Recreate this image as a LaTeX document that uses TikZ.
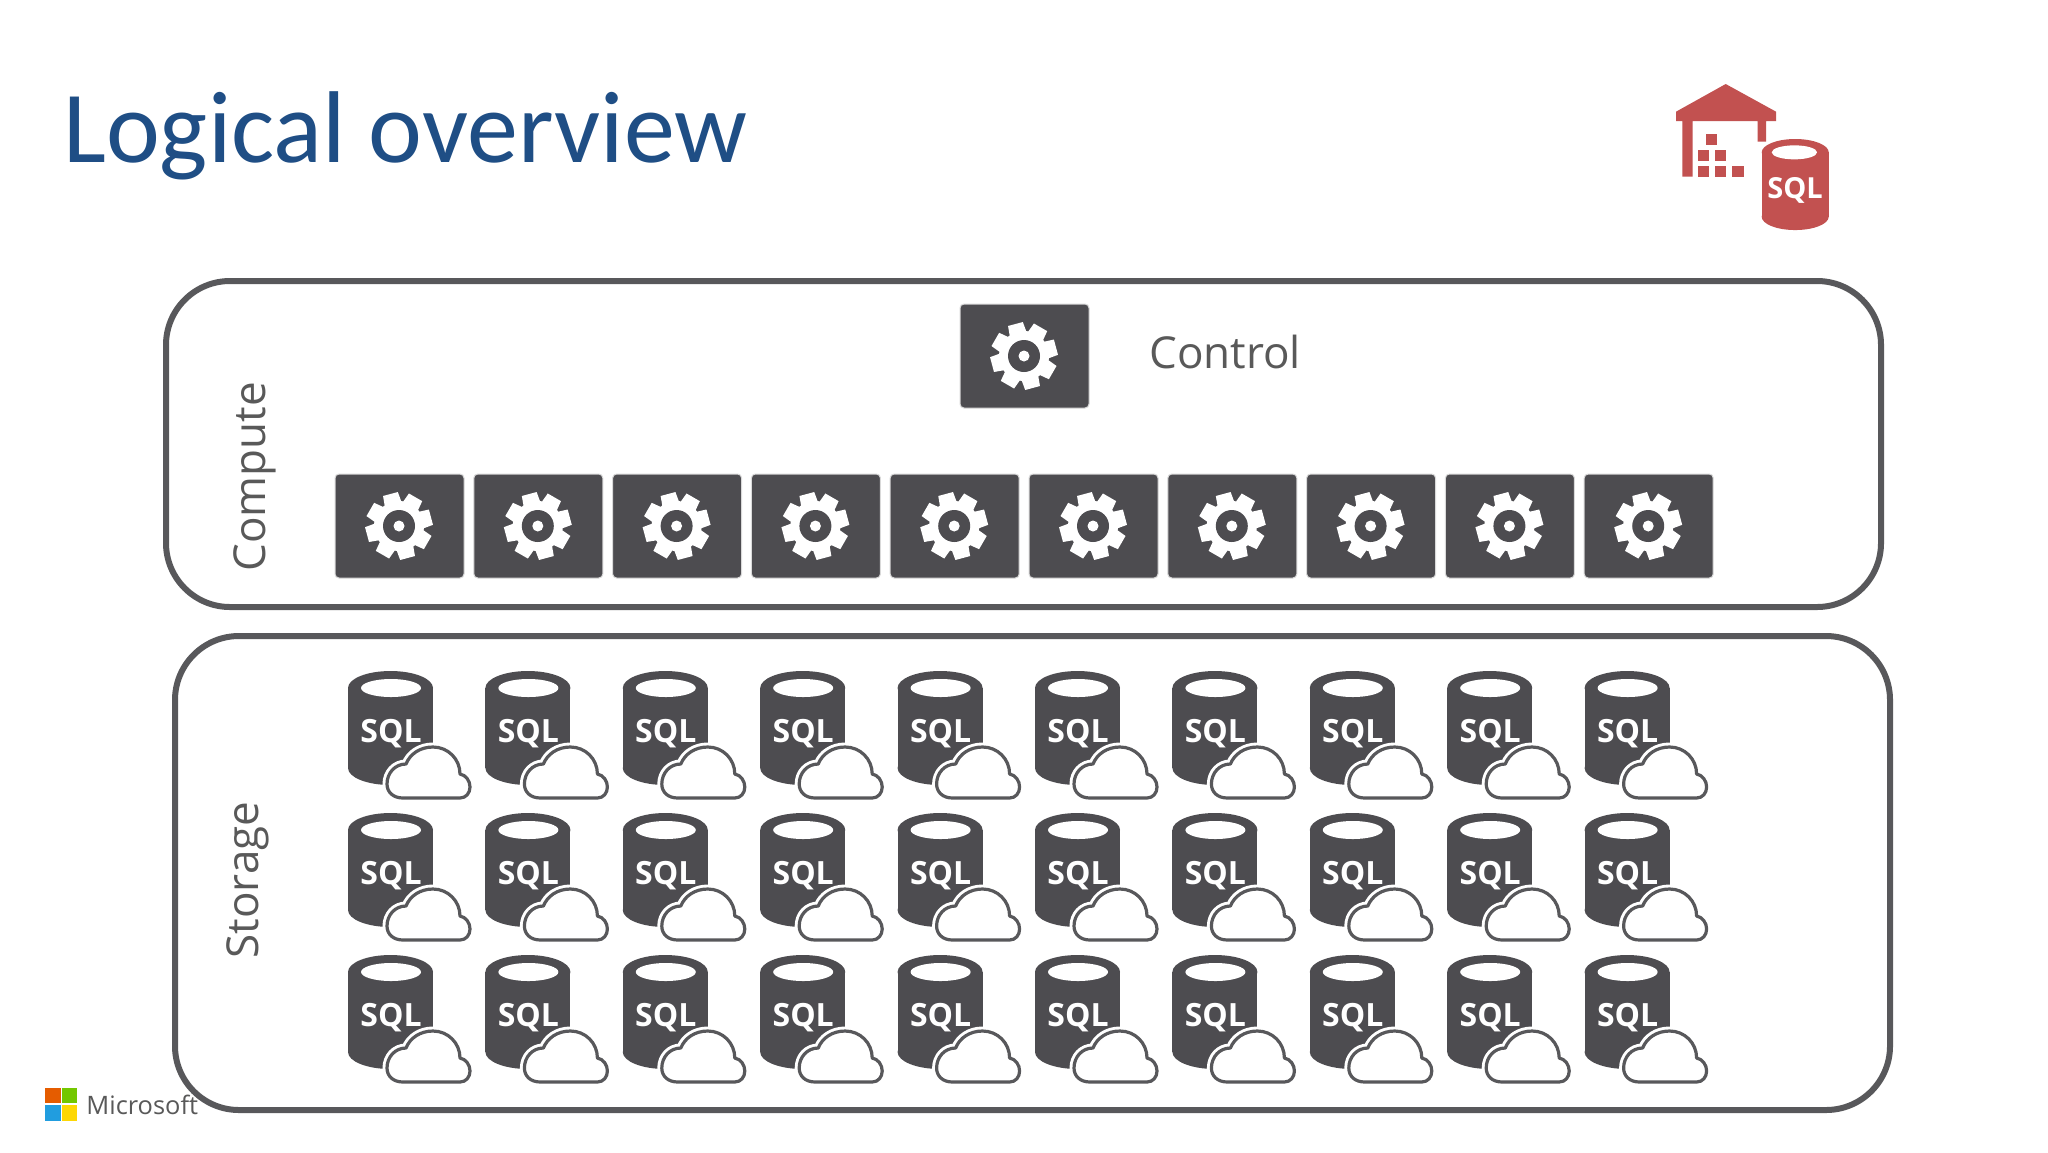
\documentclass[tikz,border=0pt]{standalone}
\usepackage{fontspec}
\setmainfont{Open Sans}
\newfontfamily\titlefont{Carlito}
\usetikzlibrary{calc}
\definecolor{tiledark}{HTML}{4D4C50}
\definecolor{boxline}{HTML}{58585B}
\definecolor{labelgray}{HTML}{595959}
\definecolor{titleblue}{HTML}{1F4E85}
\definecolor{brickred}{HTML}{C25150}
\tikzset{
    groupbox/.style={draw=boxline, line width=3pt, rounded corners=32pt},
    grouplabel/.style={text=labelgray, font=\fontsize{22}{26}\selectfont},
    sqllabel/.style={text=white, font=\bfseries\fontsize{16}{18}\selectfont, inner sep=0pt},
    gearcell/.pic={
        \fill[tiledark, draw=black!15, line width=0.5pt, rounded corners=2pt] (0,0) rectangle (129,104);
        \begin{scope}[shift={(64,52)}]
            \fill[white, rotate=15] (-14:34) \foreach \a in {0,45,...,315} {
                -- (\a-13:34) -- (\a+13:34) -- (\a+20:25) -- (\a+25:25)};
            \fill[tiledark] (0,0) circle (16);
            \fill[white] (0,0) circle (5.5);
        \end{scope}
    },
    cloudpath/.style={insert path={
        (55,127) .. controls (45,127) and (39,121) .. (39,113)
        .. controls (39,102) and (47,93) .. (58,93)
        .. controls (62,83) and (72,76) .. (85,76)
        .. controls (100,76) and (112,88) .. (112,103)
        .. controls (118,104) and (122,110) .. (122,116)
        .. controls (122,122) and (118,127) .. (112,127) -- cycle}},
}
\begin{document}
\begin{tikzpicture}[x=0.5pt, y=-0.5pt, line join=round]
    \useasboundingbox (0,0) rectangle (2048,1152);
    \fill[white] (0,0) rectangle (2048,1152);

    \node[anchor=west, inner sep=0pt, text=titleblue, font=\titlefont\fontsize{51}{60}\selectfont] (title) at (63,136) {Logical overview};

    \draw[groupbox] (166,281) rectangle (1881,607);
    \draw[groupbox] (175,636) rectangle (1890,1110);
    \node[grouplabel, rotate=90] (compute) at (255,477) {Compute};
    \node[grouplabel, rotate=90] (storage) at (248,880) {Storage};
    \node[grouplabel, anchor=west, inner sep=0pt] (control) at (1149,352) {Control};

    \pic at (960,304) {gearcell};
    \foreach \c in {0,...,9}
        \pic at ({335+138.8*\c},474) {gearcell};

    \foreach \r in {0,1,2} {
        \foreach \c in {0,...,9} {
            \begin{scope}[shift={({348+137.4*\c},{671+142*\r})}]
                \fill[tiledark] (0,17) rectangle (85,97);
                \fill[tiledark] (42.5,17) ellipse (42.5 and 17);
                \fill[tiledark] (42.5,97) ellipse (42.5 and 17);
                \fill[white] (43,17) ellipse (30 and 9);
                \node[sqllabel] (sql\r\c) at (43,63) {SQL};
                \draw[white, line width=4.5pt, cloudpath];
                \draw[boxline, fill=white, line width=1.6pt, cloudpath];
            \end{scope}
        }
    }

    \begin{scope}[shift={(1640,70)}, x=0.1667pt, y=-0.1667pt]
        \fill[brickred] (257,42) -- (408,125) -- (408,153) -- (378,153) -- (378,215) -- (353,215)
            -- (353,153) -- (158,153) -- (158,320) -- (127,320) -- (127,153) -- (108,153) -- (108,125) -- cycle;
        \foreach \x/\y in {198/193,173/240,225/240,173/287,225/287,277/287}
            \fill[brickred] (\x,\y) rectangle ++(34,33);
        \fill[brickred] (365,247) rectangle (566,440);
        \fill[brickred] (465.5,247) ellipse (100.5 and 40);
        \fill[brickred] (465.5,440) ellipse (100.5 and 40);
        \fill[white] (463,247) ellipse (68 and 21);
        \node[text=white, inner sep=0pt, font=\bfseries\fontsize{14.5}{16}\selectfont] (sqlbrick) at (465,360) {SQL};
    \end{scope}

    \fill[red!20!orange!90!black] (45,1088) rectangle (61,1103);
    \fill[green!45!black!40!lime] (62,1088) rectangle (77,1103);
    \fill[cyan!80!blue!90!white] (45,1105) rectangle (61,1121);
    \fill[yellow!75!orange] (62,1105) rectangle (77,1121);
    \node[anchor=west, inner sep=0pt, text=labelgray, font=\fontsize{12.7}{16}\selectfont] (brand) at (86,1105) {Microsoft};
\end{tikzpicture}
\end{document}
